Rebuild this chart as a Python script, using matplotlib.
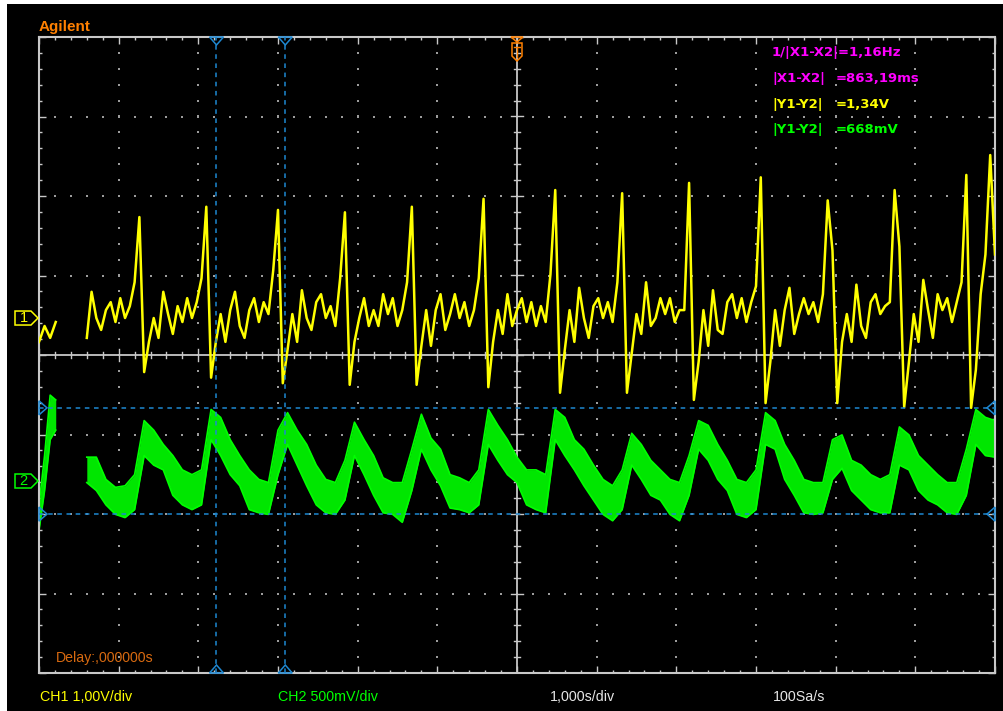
import numpy as np
import matplotlib
matplotlib.use("Agg")
import matplotlib.pyplot as plt
from matplotlib.patches import Rectangle, Polygon

# ---------------- acquisition settings ----------------
time_per_div = 1.0          # s/div
ch1_volts_per_div = 1.00    # V/div
ch2_volts_per_div = 0.50    # V/div
n_hdiv, n_vdiv = 12, 8
ch1_ground_div = 0.465      # channel reference markers (divisions from centre)
ch2_ground_div = -1.585

# ---------------- CH1 : ECG trace (volts) ----------------
ch1_head_dt = 0.07
ch1_head = [-0.30, -0.10, -0.25, -0.05]

ch1_t0, ch1_dt = 0.6, 0.06
ch1_volts = [
    -0.25, 0.33, 0.00, -0.15, 0.10, 0.20, -0.05, 0.25, 0.00, 0.15,
    0.45, 1.27, -0.68, -0.30, 0.00, -0.25, 0.33, 0.05, -0.20, 0.15,
    -0.05, 0.25, 0.00, 0.20, 0.50, 1.40, -0.75, -0.30, 0.05, -0.30,
    0.10, 0.33, -0.10, -0.25, 0.10, 0.25, -0.05, 0.20, 0.05, 0.60,
    1.36, -0.82, -0.40, 0.05, -0.30, 0.35, 0.00, -0.15, 0.20, 0.30,
    0.00, 0.15, -0.10, 0.50, 1.33, -0.84, -0.30, 0.00, 0.25, -0.10,
    0.10, -0.10, 0.30, 0.05, 0.25, -0.10, 0.10, 0.45, 1.40, -0.84,
    -0.35, 0.10, -0.35, 0.10, 0.30, -0.15, 0.05, 0.30, 0.00, 0.20,
    -0.10, 0.10, 0.50, 1.50, -0.87, -0.30, 0.10, -0.20, 0.30, -0.10,
    0.10, 0.25, -0.05, 0.20, -0.10, 0.15, -0.05, 0.55, 1.61, -0.94,
    -0.40, 0.10, -0.30, 0.38, 0.00, -0.25, 0.15, 0.25, 0.00, 0.20,
    -0.05, 0.45, 1.57, -0.94, -0.45, 0.05, -0.20, 0.45, -0.10, 0.00,
    0.25, 0.05, 0.25, -0.05, 0.10, 0.10, 1.70, -1.03, -0.55, 0.10,
    -0.35, 0.35, -0.15, -0.20, 0.20, 0.30, 0.00, 0.25, -0.05, 0.20,
    0.40, 1.77, -1.07, -0.55, 0.10, -0.35, 0.10, 0.38, -0.20, 0.05,
    0.25, 0.05, 0.20, -0.05, 0.30, 1.48, 0.85, -1.07, -0.30, 0.05,
    -0.30, 0.42, -0.10, -0.25, 0.20, 0.30, 0.05, 0.15, 0.20, 1.61,
    0.90, -1.12, -0.55, 0.05, -0.30, 0.48, 0.10, -0.25, 0.30, 0.10,
    0.25, -0.05, 0.20, 0.45, 1.80, -1.13, -0.65, 0.30, 0.80, 2.05,
    0.80,
]

# ---------------- CH2 : pulse trace, min/max envelope (volts) ----------------
ch2_head_dt = 0.07
ch2_head_hi = [-0.15, 0.16, 0.54, 0.51]
ch2_head_lo = [-0.31, -0.06, 0.26, 0.32]

ch2_t0, ch2_dt = 0.6, 0.12
ch2_hi = [
    0.15, 0.15, 0.01, -0.04, -0.03, 0.04, 0.38, 0.32, 0.23, 0.16,
    0.07, 0.04, 0.07, 0.45, 0.40, 0.26, 0.16, 0.07, 0.01, -0.01,
    0.32, 0.43, 0.32, 0.23, 0.10, 0.01, -0.01, 0.13, 0.37, 0.26,
    0.16, 0.02, -0.01, -0.01, 0.20, 0.42, 0.27, 0.20, 0.04, 0.02,
    -0.01, 0.07, 0.45, 0.35, 0.26, 0.15, 0.07, 0.07, 0.04, 0.45,
    0.40, 0.26, 0.20, 0.10, 0.01, -0.03, 0.07, 0.30, 0.23, 0.13,
    0.07, 0.01, -0.01, 0.16, 0.38, 0.35, 0.23, 0.13, 0.01, -0.01,
    0.07, 0.43, 0.38, 0.23, 0.13, 0.01, -0.01, -0.01, 0.26, 0.29,
    0.13, 0.10, 0.04, 0.01, 0.04, 0.34, 0.29, 0.16, 0.10, 0.04,
    -0.01, -0.01, 0.20, 0.45, 0.40, 0.38,
]
ch2_lo = [
    -0.01, -0.06, -0.15, -0.21, -0.23, -0.18, 0.16, 0.10, 0.07, -0.09,
    -0.15, -0.18, -0.15, 0.26, 0.16, 0.04, -0.03, -0.18, -0.20, -0.21,
    0.04, 0.23, 0.10, -0.03, -0.15, -0.20, -0.21, -0.12, 0.16, 0.04,
    -0.09, -0.20, -0.21, -0.26, -0.06, 0.20, 0.07, -0.03, -0.17, -0.18,
    -0.20, -0.15, 0.23, 0.13, 0.04, -0.01, -0.15, -0.18, -0.20, 0.26,
    0.16, 0.07, -0.03, -0.12, -0.21, -0.25, -0.18, 0.10, 0.01, -0.09,
    -0.12, -0.21, -0.25, -0.09, 0.20, 0.13, 0.01, -0.06, -0.21, -0.23,
    -0.18, 0.23, 0.20, 0.01, -0.09, -0.20, -0.21, -0.20, 0.01, 0.08,
    -0.06, -0.12, -0.18, -0.20, -0.20, 0.10, 0.07, -0.06, -0.12, -0.15,
    -0.20, -0.21, -0.09, 0.23, 0.16, 0.15,
]

# ---------------- cursors ----------------
cursor_x1 = 2.228               # s
cursor_dx = 0.86319             # s  (|X1-X2|)
cursor_y1 = 0.460               # V on CH2
cursor_dy = 0.668               # V  (|Y1-Y2| on CH2)
trigger_time = 6.0

readouts = [
    ("1/|X1-X2|=1,16Hz", None, "#ff00ff"),
    ("|X1-X2|", "=863,19ms", "#ff00ff"),
    ("|Y1-Y2|", "=1,34V", "#ffff00"),
    ("|Y1-Y2|", "=668mV", "#00ff00"),
]
footer = [
    ("CH1 1,00V/div", "#ffff00", 40),
    ("CH2 500mV/div", "#00ff00", 278),
    ("1,000s/div", "#e6e6e6", 550),
    ("100Sa/s", "#e6e6e6", 773),
]

# ---------------- colours ----------------
C_YEL = "#ffff00"
C_GRN = "#00ff00"
C_GRID = "#c8c8c8"
C_DOT = "#9c9c9c"
C_CUR = "#1e88d2"
C_ORG = "#ff8000"

W, H = 1004, 711
fig = plt.figure(figsize=(W / 100, H / 100), dpi=100, facecolor="white")


def fx(px):
    return px / W


def fy(py):
    return 1 - py / H


# black screen area
fig.patches.append(Rectangle((fx(7), 0), 1 - fx(7), fy(4), transform=fig.transFigure,
                             facecolor="black", edgecolor="none", zorder=-5))

L, R, T, B = 39, 995, 37, 673
ax = fig.add_axes([fx(L), fy(B), (R - L) / W, (B - T) / H])
ax.set_zorder(2)
ax.set_facecolor("black")
ax.set_xlim(0, n_hdiv)
ax.set_ylim(-n_vdiv / 2, n_vdiv / 2)
PXX = n_hdiv / (R - L)
PXY = n_vdiv / (B - T)

for s in ax.spines.values():
    s.set_color(C_GRID)
    s.set_linewidth(1.5)
ax.set_xticks(np.arange(0, n_hdiv + 1, 1))
ax.set_xticks(np.arange(0, n_hdiv + 0.01, 0.2), minor=True)
ax.set_yticks(np.arange(-4, 5, 1))
ax.set_yticks(np.arange(-4, 4.01, 0.2), minor=True)
ax.tick_params(which="both", direction="in", top=True, right=True, bottom=True, left=True,
               labelbottom=False, labelleft=False, color=C_GRID, width=1.0)
ax.tick_params(which="major", length=5.0)
ax.tick_params(which="minor", length=2.4)

# dotted graticule
xs_minor = np.arange(0, n_hdiv + 0.01, 0.2)
ys_minor = np.arange(-4, 4.01, 0.2)
gx, gy = [], []
for xv in range(1, n_hdiv):
    if xv == n_hdiv // 2:
        continue
    gx += [xv] * len(ys_minor)
    gy += list(ys_minor)
for yv in range(-3, 4):
    if yv == 0:
        continue
    gx += list(xs_minor)
    gy += [yv] * len(xs_minor)
ax.scatter(gx, gy, s=1.6, marker="s", color=C_DOT, linewidths=0, zorder=1)

# centre axes with tick marks
ax.axhline(0, color=C_GRID, lw=1.3, zorder=1)
ax.axvline(n_hdiv / 2, color=C_GRID, lw=1.3, zorder=1)
for xv in xs_minor:
    major = abs(xv - round(xv)) < 1e-6
    h = (6 if major else 3) * PXY
    ax.plot([xv, xv], [-h, h], color=C_GRID, lw=1.0, zorder=1)
for yv in ys_minor:
    major = abs(yv - round(yv)) < 1e-6
    w = (6 if major else 3) * PXX
    ax.plot([n_hdiv / 2 - w, n_hdiv / 2 + w], [yv, yv], color=C_GRID, lw=1.0, zorder=1)

# ---------------- traces ----------------
# CH2 envelope
t2h = np.arange(len(ch2_head_hi)) * ch2_head_dt
y2h_hi = ch2_ground_div + np.array(ch2_head_hi) / ch2_volts_per_div
y2h_lo = ch2_ground_div + np.array(ch2_head_lo) / ch2_volts_per_div
ax.fill_between(t2h, y2h_lo, y2h_hi, color="#00e600", lw=0, zorder=2)
ax.plot(t2h, y2h_hi, color=C_GRN, lw=1.2, zorder=2)
ax.plot(t2h, y2h_lo, color=C_GRN, lw=1.2, zorder=2)

t2 = ch2_t0 + np.arange(len(ch2_hi)) * ch2_dt
y2_hi = ch2_ground_div + np.array(ch2_hi) / ch2_volts_per_div
y2_lo = ch2_ground_div + np.array(ch2_lo) / ch2_volts_per_div
ax.fill_between(t2, y2_lo, y2_hi, color="#00e600", lw=0, zorder=2)
ax.plot(t2, y2_hi, color=C_GRN, lw=1.2, zorder=2)
ax.plot(t2, y2_lo, color=C_GRN, lw=1.2, zorder=2)

# CH1 ECG
t1h = np.arange(len(ch1_head)) * ch1_head_dt
ax.plot(t1h, ch1_ground_div + np.array(ch1_head) / ch1_volts_per_div, color=C_YEL, lw=1.8, zorder=3)
t1 = ch1_t0 + np.arange(len(ch1_volts)) * ch1_dt
ax.plot(t1, ch1_ground_div + np.array(ch1_volts) / ch1_volts_per_div, color=C_YEL, lw=1.8, zorder=3)

# ---------------- cursors ----------------
cx = [cursor_x1, cursor_x1 + cursor_dx]
cy = [ch2_ground_div + cursor_y1 / ch2_volts_per_div,
      ch2_ground_div + (cursor_y1 - cursor_dy) / ch2_volts_per_div]
for xv in cx:
    ax.axvline(xv, color=C_CUR, lw=1.1, ls=(0, (3, 3)), zorder=4)
    ax.add_patch(Polygon([(xv - 7 * PXX, 4), (xv + 7 * PXX, 4), (xv, 4 - 8 * PXY)],
                         closed=True, fill=False, ec=C_CUR, lw=1.1, clip_on=False, zorder=5))
    ax.add_patch(Polygon([(xv - 7 * PXX, -4), (xv + 7 * PXX, -4), (xv, -4 + 8 * PXY)],
                         closed=True, fill=False, ec=C_CUR, lw=1.1, clip_on=False, zorder=5))
for yv in cy:
    ax.axhline(yv, color=C_CUR, lw=1.1, ls=(0, (3, 3)), zorder=4)
    ax.add_patch(Polygon([(0, yv - 7 * PXY), (0, yv + 7 * PXY), (8 * PXX, yv)],
                         closed=True, fill=False, ec=C_CUR, lw=1.1, clip_on=False, zorder=5))
    ax.add_patch(Polygon([(n_hdiv, yv - 7 * PXY), (n_hdiv, yv + 7 * PXY), (n_hdiv - 8 * PXX, yv)],
                         closed=True, fill=False, ec=C_CUR, lw=1.1, clip_on=False, zorder=5))

# trigger marker
tx, ty = trigger_time, 4
ax.add_patch(Polygon([(tx - 6 * PXX, ty), (tx + 6 * PXX, ty), (tx, ty - 5 * PXY)],
                     closed=True, fill=False, ec=C_ORG, lw=1.1, clip_on=False, zorder=5))
ax.add_patch(Polygon([(tx - 5 * PXX, ty - 6 * PXY), (tx + 5 * PXX, ty - 6 * PXY),
                      (tx + 5 * PXX, ty - 19 * PXY), (tx, ty - 24 * PXY), (tx - 5 * PXX, ty - 19 * PXY)],
                     closed=True, fill=False, ec=C_ORG, lw=1.1, clip_on=False, zorder=5))
ax.plot([tx - 3 * PXX, tx + 3 * PXX], [ty - 10 * PXY] * 2, color=C_ORG, lw=1.0, zorder=5)
ax.plot([tx, tx], [ty - 10 * PXY, ty - 20 * PXY], color=C_ORG, lw=1.0, zorder=5)

# channel reference markers
for gdiv, col, lab in [(ch1_ground_div, C_YEL, "1"), (ch2_ground_div, C_GRN, "2")]:
    ax.add_patch(Polygon([(-24 * PXX, gdiv - 7 * PXY), (-8 * PXX, gdiv - 7 * PXY), (-1 * PXX, gdiv),
                          (-8 * PXX, gdiv + 7 * PXY), (-24 * PXX, gdiv + 7 * PXY)],
                         closed=True, fill=False, ec=col, lw=1.1, clip_on=False, zorder=5))
    ax.text(-15.5 * PXX, gdiv, lab, color=col, fontsize=10.5, ha="center", va="center",
            family="Liberation Sans", clip_on=False)

# ---------------- text ----------------
fig.text(fx(39), fy(31), "Agilent", color=C_ORG, fontsize=11, fontweight="bold",
         family="Liberation Sans", va="baseline", ha="left")

base = [56, 82, 108, 133]
for (lab, val, col), by in zip(readouts, base):
    fig.text(fx(772), fy(by), lab, color=col, fontsize=9.5, fontweight="bold",
             family="DejaVu Sans", va="baseline", ha="left", zorder=10)
    if val:
        fig.text(fx(836), fy(by), val, color=col, fontsize=9.5, fontweight="bold",
                 family="DejaVu Sans", va="baseline", ha="left", zorder=10)

fig.text(fx(56), fy(662), "Delay:,000000s", color="#d86a10", fontsize=10.2,
         family="Liberation Sans", va="baseline", ha="left", zorder=10)
for lab, col, px in footer:
    fig.text(fx(px), fy(701), lab, color=col, fontsize=10.3, family="Liberation Sans",
             va="baseline", ha="left")

fig.savefig("out.png", dpi=100, facecolor="white")
